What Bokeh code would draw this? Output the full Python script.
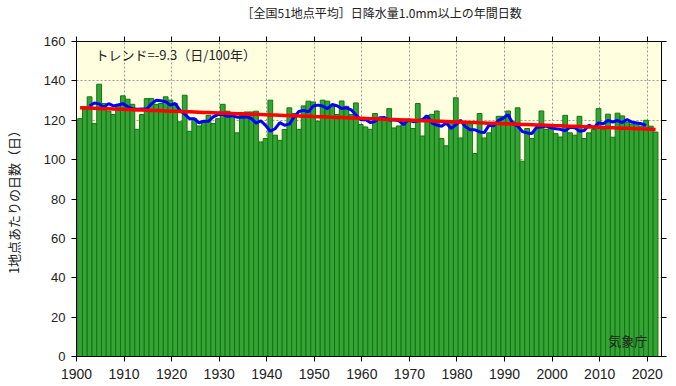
import numpy as np
from bokeh.plotting import figure
from bokeh.models import Range1d, LinearAxis, FixedTicker, Label
from bokeh.embed import file_html
from bokeh.resources import INLINE

# ---- data ----
years = list(range(1901, 2023))
days = [
    120.8, 126.8, 131.9, 118.3, 138.3, 128.5, 124.6, 122.9, 128.1, 132.4,  # 1901-1910
    130.7, 128.1, 115.4, 122.9, 131.0, 131.0, 128.1, 128.5, 131.9, 130.2,  # 1911-1920
    128.5, 119.2, 132.7, 114.4, 120.8, 117.1, 118.8, 122.5, 118.3, 120.8,  # 1921-1930
    128.1, 124.6, 122.9, 113.6, 122.5, 124.2, 124.2, 124.6, 109.0, 110.7,  # 1931-1940
    130.2, 112.4, 109.8, 115.3, 126.3, 123.4, 115.4, 127.3, 129.7, 129.3,  # 1941-1950
    119.5, 130.2, 129.7, 127.3, 122.9, 129.8, 127.1, 122.9, 128.8, 117.8,  # 1951-1960
    116.6, 115.4, 123.4, 120.8, 120.8, 125.9, 116.1, 117.1, 120.5, 119.5,  # 1961-1970
    115.8, 128.5, 112.0, 122.5, 123.0, 124.7, 110.7, 107.0, 119.2, 131.4,  # 1971-1980
    111.0, 119.2, 119.2, 103.1, 123.4, 111.0, 113.6, 117.5, 122.0, 122.0,  # 1981-1990
    124.7, 119.2, 126.3, 99.2, 115.8, 110.7, 115.8, 124.7, 115.4, 116.0,   # 1991-2000
    113.2, 111.5, 122.5, 113.6, 112.4, 122.0, 110.7, 113.6, 115.3, 125.9,  # 2001-2010
    115.4, 123.1, 111.4, 123.6, 122.2, 119.0, 118.0, 119.0, 117.0, 120.0,  # 2011-2020
    117.0, 114.0,                                                          # 2021-2022
]
x_ticks = list(range(1900, 2030, 10))
y_ticks = list(range(0, 180, 20))
title_text = "［全国51地点平均］日降水量1.0mm以上の年間日数"
trend_text = "トレンド=-9.3（日/100年）"
y_label = "1地点あたりの日数（日）"
credit_text = "気象庁"

# ---- derived series ----
yr = np.array(years, dtype=float)
d = np.array(days, dtype=float)
xc = yr - 0.25                      # bar centres as drawn in the reference
run5 = np.convolve(d, np.ones(5) / 5.0, mode="valid")
run_x = xc[2:-2]
coef = np.polyfit(yr, d, 1)
trend = np.polyval(coef, yr)

JP = "Noto Sans CJK JP"
NUM = "Liberation Sans"

p = figure(width=668, height=384,
           x_range=Range1d(1900, 2023), y_range=Range1d(0, 160),
           output_backend="svg", toolbar_location=None,
           min_border_left=71, min_border_right=7,
           min_border_bottom=28, min_border_top=40)

p.background_fill_color = "#FFFFE0"
p.border_fill_color = "white"
p.outline_line_color = "black"
p.outline_line_width = 1

# title
p.title.text = title_text
p.title.align = "left"
p.title.offset = 165
p.title.text_font = JP
p.title.text_font_size = "12px"
p.title.text_font_style = "normal"
p.title.text_color = "#222222"
p.title.standoff = 2
p.title.padding = dict(left=0, right=0, top=0, bottom=15)

# bars
p.vbar(x=xc, top=d, bottom=0, width=1.0,
       fill_color="#36A336", line_color="#117511", line_width=1)

# 5-year running mean
p.line(run_x, run5, line_color="#0000FF", line_width=3)
# linear trend
p.line(xc, trend, line_color="#FF0000", line_width=3.5)

# grid
for g in (p.xgrid, p.ygrid):
    g.grid_line_color = "#999999"
    g.grid_line_dash = "2 2"
    g.grid_line_width = 1
p.xgrid.ticker = FixedTicker(ticks=x_ticks)
p.ygrid.ticker = FixedTicker(ticks=y_ticks)

# main axes
xa = p.xaxis[0]
ya = p.yaxis[0]
xa.ticker = FixedTicker(ticks=x_ticks)
ya.ticker = FixedTicker(ticks=y_ticks)
for a in (xa, ya):
    a.axis_line_color = "black"
    a.major_tick_line_color = "black"
    a.major_tick_in = 0
    a.major_tick_out = 5
    a.minor_tick_line_color = None
    a.major_label_text_font = NUM
    a.major_label_text_color = "#222222"
xa.major_label_text_font_size = "14px"
ya.major_label_text_font_size = "13px"
xa.major_label_standoff = 7
ya.major_label_standoff = 6
ya.axis_label = y_label
ya.axis_label_text_font = JP
ya.axis_label_text_font_size = "13px"
ya.axis_label_text_font_style = "normal"
ya.axis_label_text_color = "#222222"
ya.axis_label_standoff = 18

# tick-only axes on top and right (labels blanked, not drawn)
top_ax = LinearAxis(ticker=FixedTicker(ticks=x_ticks),
                    major_label_overrides={t: "" for t in x_ticks})
right_ax = LinearAxis(ticker=FixedTicker(ticks=y_ticks),
                      major_label_overrides={t: "" for t in y_ticks})
for a in (top_ax, right_ax):
    a.axis_line_color = "black"
    a.major_tick_line_color = "black"
    a.major_tick_in = 0
    a.major_tick_out = 5
    a.minor_tick_line_color = None
    a.major_label_text_color = None
    a.major_label_text_font_size = "0px"
    a.major_label_standoff = 0
p.add_layout(top_ax, "above")
p.add_layout(right_ax, "right")

# annotations inside the frame
p.add_layout(Label(x=1904, y=153.5, text=trend_text, text_font=JP,
                   text_font_size="13px", text_color="#222222",
                   text_baseline="middle", text_align="left"))
p.add_layout(Label(x=2020, y=8, text=credit_text, text_font=JP,
                   text_font_size="13px", text_color="#222222",
                   text_baseline="middle", text_align="right"))

open("out.html", "w").write(file_html(p, INLINE))
